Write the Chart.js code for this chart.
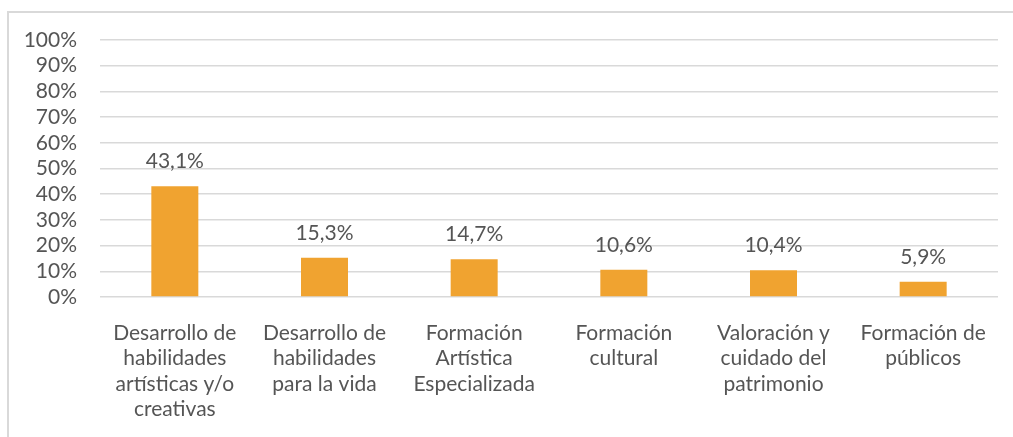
<!DOCTYPE html>
<html>
<head>
<meta charset="utf-8">
<script src="https://cdn.jsdelivr.net/npm/chart.js@4.4.0/dist/chart.umd.min.js"></script>
<style>
  html, body { margin: 0; padding: 0; background: #ffffff; overflow: hidden; }
  #wrap { position: relative; width: 1013px; height: 437px; }
  #frame { position: absolute; left: 7px; top: 11px; width: 1010px; height: 430px;
           border-left: 2px solid #d9d9d9; border-top: 2px solid #d9d9d9; box-sizing: border-box; }
  canvas { position: absolute; left: 0; top: 0; }
</style>
</head>
<body>
<div id="wrap">
  <div id="frame"></div>
  <canvas id="c" width="1013" height="437"></canvas>
</div>
<script>
const categories = [
  ["Desarrollo de", "habilidades", "artísticas y/o", "creativas"],
  ["Desarrollo de", "habilidades", "para la vida"],
  ["Formación", "Artística", "Especializada"],
  ["Formación", "cultural"],
  ["Valoración y", "cuidado del", "patrimonio"],
  ["Formación de", "públicos"]
];
const values = [43.1, 15.3, 14.7, 10.6, 10.4, 5.9];
const valueLabels = ["43,1%", "15,3%", "14,7%", "10,6%", "10,4%", "5,9%"];
const yTicks = [0, 10, 20, 30, 40, 50, 60, 70, 80, 90, 100];

const textColor = "#555555";
const fontFamily = "Lato, 'Open Sans', sans-serif";

const dataLabelPlugin = {
  id: "dataLabels",
  afterDatasetsDraw(chart) {
    const ctx = chart.ctx;
    const meta = chart.getDatasetMeta(0);
    ctx.save();
    ctx.font = "21px " + fontFamily;
    ctx.fillStyle = textColor;
    ctx.textAlign = "center";
    ctx.textBaseline = "alphabetic";
    meta.data.forEach((bar, i) => {
      ctx.fillText(valueLabels[i], bar.x, bar.y - 18);
    });
    ctx.restore();
  }
};

new Chart(document.getElementById("c"), {
  type: "bar",
  data: {
    labels: categories,
    datasets: [{
      data: values,
      backgroundColor: "#F0A330",
      borderWidth: 0,
      barPercentage: 0.314,
      categoryPercentage: 1.0
    }]
  },
  options: {
    responsive: false,
    animation: false,
    devicePixelRatio: 1,
    layout: { padding: { left: 0, right: 15, top: 40, bottom: 0 } },
    plugins: { legend: { display: false }, tooltip: { enabled: false } },
    scales: {
      x: {
        grid: { display: false, drawTicks: false },
        border: { display: false },
        ticks: {
          color: textColor,
          font: { family: fontFamily, size: 21, lineHeight: 1.22 },
          padding: 23,
          maxRotation: 0,
          autoSkip: false
        },
        afterFit(scale) { scale.height = 437 - 297; }
      },
      y: {
        min: 0,
        max: 100,
        afterBuildTicks(scale) { scale.ticks = yTicks.map(v => ({ value: v })); },
        grid: { color: "#d9d9d9", lineWidth: 1.5, drawTicks: false },
        border: { display: false },
        ticks: {
          color: textColor,
          font: { family: fontFamily, size: 21 },
          padding: 23,
          autoSkip: false,
          callback: v => v + "%"
        },
        afterFit(scale) { scale.width = 100; }
      }
    }
  },
  plugins: [dataLabelPlugin]
});
</script>
</body>
</html>
